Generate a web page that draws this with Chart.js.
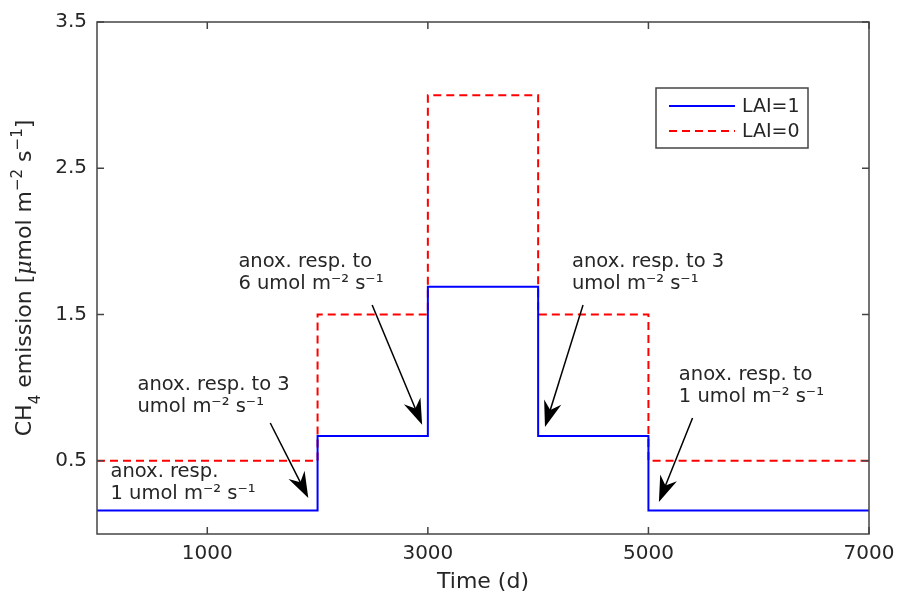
<!DOCTYPE html>
<html>
<head>
<meta charset="utf-8">
<script src="https://cdn.jsdelivr.net/npm/chart.js@4.4.0/dist/chart.umd.min.js"></script>
<style>
    html, body { margin: 0; padding: 0; background: #fff; }
    #wrap { width: 900px; height: 595px; position: relative; }
</style>
</head>
<body>
<div id="wrap"><canvas id="chart"></canvas></div>
<script>
// step change times (d) and emission levels
const days = [0, 2000, 3000, 4000, 5000, 7000];
const lai1 = [0.16, 0.67, 1.69, 0.67, 0.16, 0.16];
const lai0 = [0.5, 1.5, 3.0, 1.5, 0.5, 0.5];

const xTicks = [1000, 3000, 5000, 7000];
const yTicks = [0.5, 1.5, 2.5, 3.5];

// text notes: left x / first line y in data units
const notes = [
    { x: 122, y: 0.424, lines: ["anox. resp.", "1 umol m\u207B\u00B2 s\u207B\u00B9"] },
    { x: 367, y: 1.019, lines: ["anox. resp. to 3", "umol m\u207B\u00B2 s\u207B\u00B9"] },
    { x: 1282, y: 1.86, lines: ["anox. resp. to", "6 umol m\u207B\u00B2 s\u207B\u00B9"] },
    { x: 4307, y: 1.86, lines: ["anox. resp. to 3", "umol m\u207B\u00B2 s\u207B\u00B9"] },
    { x: 5276, y: 1.088, lines: ["anox. resp. to", "1 umol m\u207B\u00B2 s\u207B\u00B9"] },
];

// arrows: [fromX, fromY, toX, toY] in data units
const arrows = [
    [1571, 0.759, 1916, 0.246],
    [2495, 1.566, 2948, 0.746],
    [4407, 1.566, 4062, 0.732],
    [5400, 0.793, 5095, 0.219],
];

const FONT = "'DejaVu Sans', sans-serif";
const INK = "#262626";

function drawArrow(ctx, x1, y1, x2, y2) {
    const ang = Math.atan2(y2 - y1, x2 - x1);
    const len = 26, half = 9;
    ctx.strokeStyle = "#000";
    ctx.lineWidth = 1.5;
    ctx.beginPath();
    ctx.moveTo(x1, y1);
    ctx.lineTo(x2 - Math.cos(ang) * len * 0.6, y2 - Math.sin(ang) * len * 0.6);
    ctx.stroke();
    const bx = x2 - Math.cos(ang) * len, by = y2 - Math.sin(ang) * len;
    const nx = -Math.sin(ang), ny = Math.cos(ang);
    const mx = x2 - Math.cos(ang) * len * 0.68, my = y2 - Math.sin(ang) * len * 0.68;
    ctx.fillStyle = "#000";
    ctx.beginPath();
    ctx.moveTo(x2, y2);
    ctx.lineTo(bx + nx * half, by + ny * half);
    ctx.lineTo(mx, my);
    ctx.lineTo(bx - nx * half, by - ny * half);
    ctx.closePath();
    ctx.fill();
}

const decor = {
    id: "decor",
    afterDatasetsDraw(chart) {
        const { ctx, chartArea: a, scales: { x, y } } = chart;
        ctx.save();

        // axes box with inward ticks
        ctx.strokeStyle = "#444";
        ctx.lineWidth = 1.5;
        ctx.strokeRect(a.left, a.top, a.right - a.left, a.bottom - a.top);
        ctx.beginPath();
        xTicks.forEach((v) => {
            const px = x.getPixelForValue(v);
            ctx.moveTo(px, a.bottom); ctx.lineTo(px, a.bottom - 7);
            ctx.moveTo(px, a.top); ctx.lineTo(px, a.top + 7);
        });
        yTicks.forEach((v) => {
            const py = y.getPixelForValue(v);
            ctx.moveTo(a.left, py); ctx.lineTo(a.left + 7, py);
            ctx.moveTo(a.right, py); ctx.lineTo(a.right - 7, py);
        });
        ctx.stroke();

        // notes
        ctx.fillStyle = INK;
        ctx.font = "19.5px " + FONT;
        ctx.textBaseline = "middle";
        ctx.textAlign = "left";
        notes.forEach((n) => {
            const px = x.getPixelForValue(n.x), py = y.getPixelForValue(n.y);
            n.lines.forEach((t, i) => ctx.fillText(t, px, py + i * 22));
        });
        arrows.forEach((r) => drawArrow(ctx,
            x.getPixelForValue(r[0]), y.getPixelForValue(r[1]),
            x.getPixelForValue(r[2]), y.getPixelForValue(r[3])));

        // legend
        const lx = 656, ly = 88, lw = 152, lh = 60;
        ctx.fillStyle = "#fff";
        ctx.fillRect(lx, ly, lw, lh);
        ctx.strokeStyle = "#444";
        ctx.lineWidth = 1.5;
        ctx.strokeRect(lx, ly, lw, lh);
        chart.data.datasets.forEach((ds, i) => {
            const yy = ly + 18 + i * 25;
            ctx.strokeStyle = ds.borderColor;
            ctx.lineWidth = ds.borderWidth;
            ctx.setLineDash(ds.borderDash || []);
            ctx.beginPath();
            ctx.moveTo(lx + 13, yy);
            ctx.lineTo(lx + 79, yy);
            ctx.stroke();
            ctx.setLineDash([]);
            ctx.fillStyle = INK;
            ctx.font = "19px " + FONT;
            ctx.fillText(ds.label, lx + 86, yy + 1);
        });

        // y axis title with sub/superscripts
        const parts = [
            ["CH", "22px " + FONT, 0],
            ["4", "15px " + FONT, 9],
            [" emission [", "22px " + FONT, 0],
            ["\u03BC", "italic 22px 'DejaVu Serif', serif", 0],
            ["mol m", "22px " + FONT, 0],
            ["\u22122", "15px " + FONT, -9],
            [" s", "22px " + FONT, 0],
            ["\u22121", "15px " + FONT, -9],
            ["]", "22px " + FONT, 0],
        ];
        let total = 0;
        parts.forEach((p) => { ctx.font = p[1]; total += ctx.measureText(p[0]).width; });
        ctx.translate(31, (a.top + a.bottom) / 2);
        ctx.rotate(-Math.PI / 2);
        ctx.textBaseline = "alphabetic";
        ctx.fillStyle = INK;
        let cx = -total / 2;
        parts.forEach((p) => {
            ctx.font = p[1];
            ctx.fillText(p[0], cx, p[2]);
            cx += ctx.measureText(p[0]).width;
        });

        ctx.restore();
    },
};

const canvas = document.getElementById("chart");

new Chart(canvas, {
    type: "line",
    data: {
        datasets: [
            {
                label: "LAI=1",
                data: days.map((d, i) => ({ x: d, y: lai1[i] })),
                borderColor: "#0000ff",
                borderWidth: 2,
                stepped: true,
                pointRadius: 0,
            },
            {
                label: "LAI=0",
                data: days.map((d, i) => ({ x: d, y: lai0[i] })),
                borderColor: "#ff0000",
                borderWidth: 2,
                borderDash: [8, 5],
                stepped: true,
                pointRadius: 0,
            },
        ],
    },
    options: {
        responsive: true,
        maintainAspectRatio: false,
        animation: false,
        layout: { padding: { left: 0, top: 22, right: 31, bottom: 0 } },
        plugins: {
            legend: { display: false },
            tooltip: { enabled: false },
        },
        scales: {
            x: {
                type: "linear",
                min: 0,
                max: 7000,
                grid: { display: false },
                border: { display: false },
                afterBuildTicks: (s) => { s.ticks = xTicks.map((v) => ({ value: v })); },
                afterFit: (s) => { s.height = 61; },
                ticks: {
                    padding: 0,
                    color: INK,
                    font: { family: FONT, size: 20 },
                    maxRotation: 0,
                    callback: (v) => String(v),
                },
                title: {
                    display: true,
                    text: "Time (d)",
                    color: INK,
                    font: { family: FONT, size: 22 },
                    padding: { top: 0, bottom: 0 },
                },
            },
            y: {
                min: 0,
                max: 3.5,
                grid: { display: false },
                border: { display: false },
                afterBuildTicks: (s) => { s.ticks = yTicks.map((v) => ({ value: v })); },
                afterFit: (s) => { s.width = 97; },
                ticks: {
                    padding: 2,
                    color: INK,
                    font: { family: FONT, size: 20 },
                    callback: (v) => v.toFixed(1),
                },
            },
        },
    },
    plugins: [decor],
});
</script>
</body>
</html>
